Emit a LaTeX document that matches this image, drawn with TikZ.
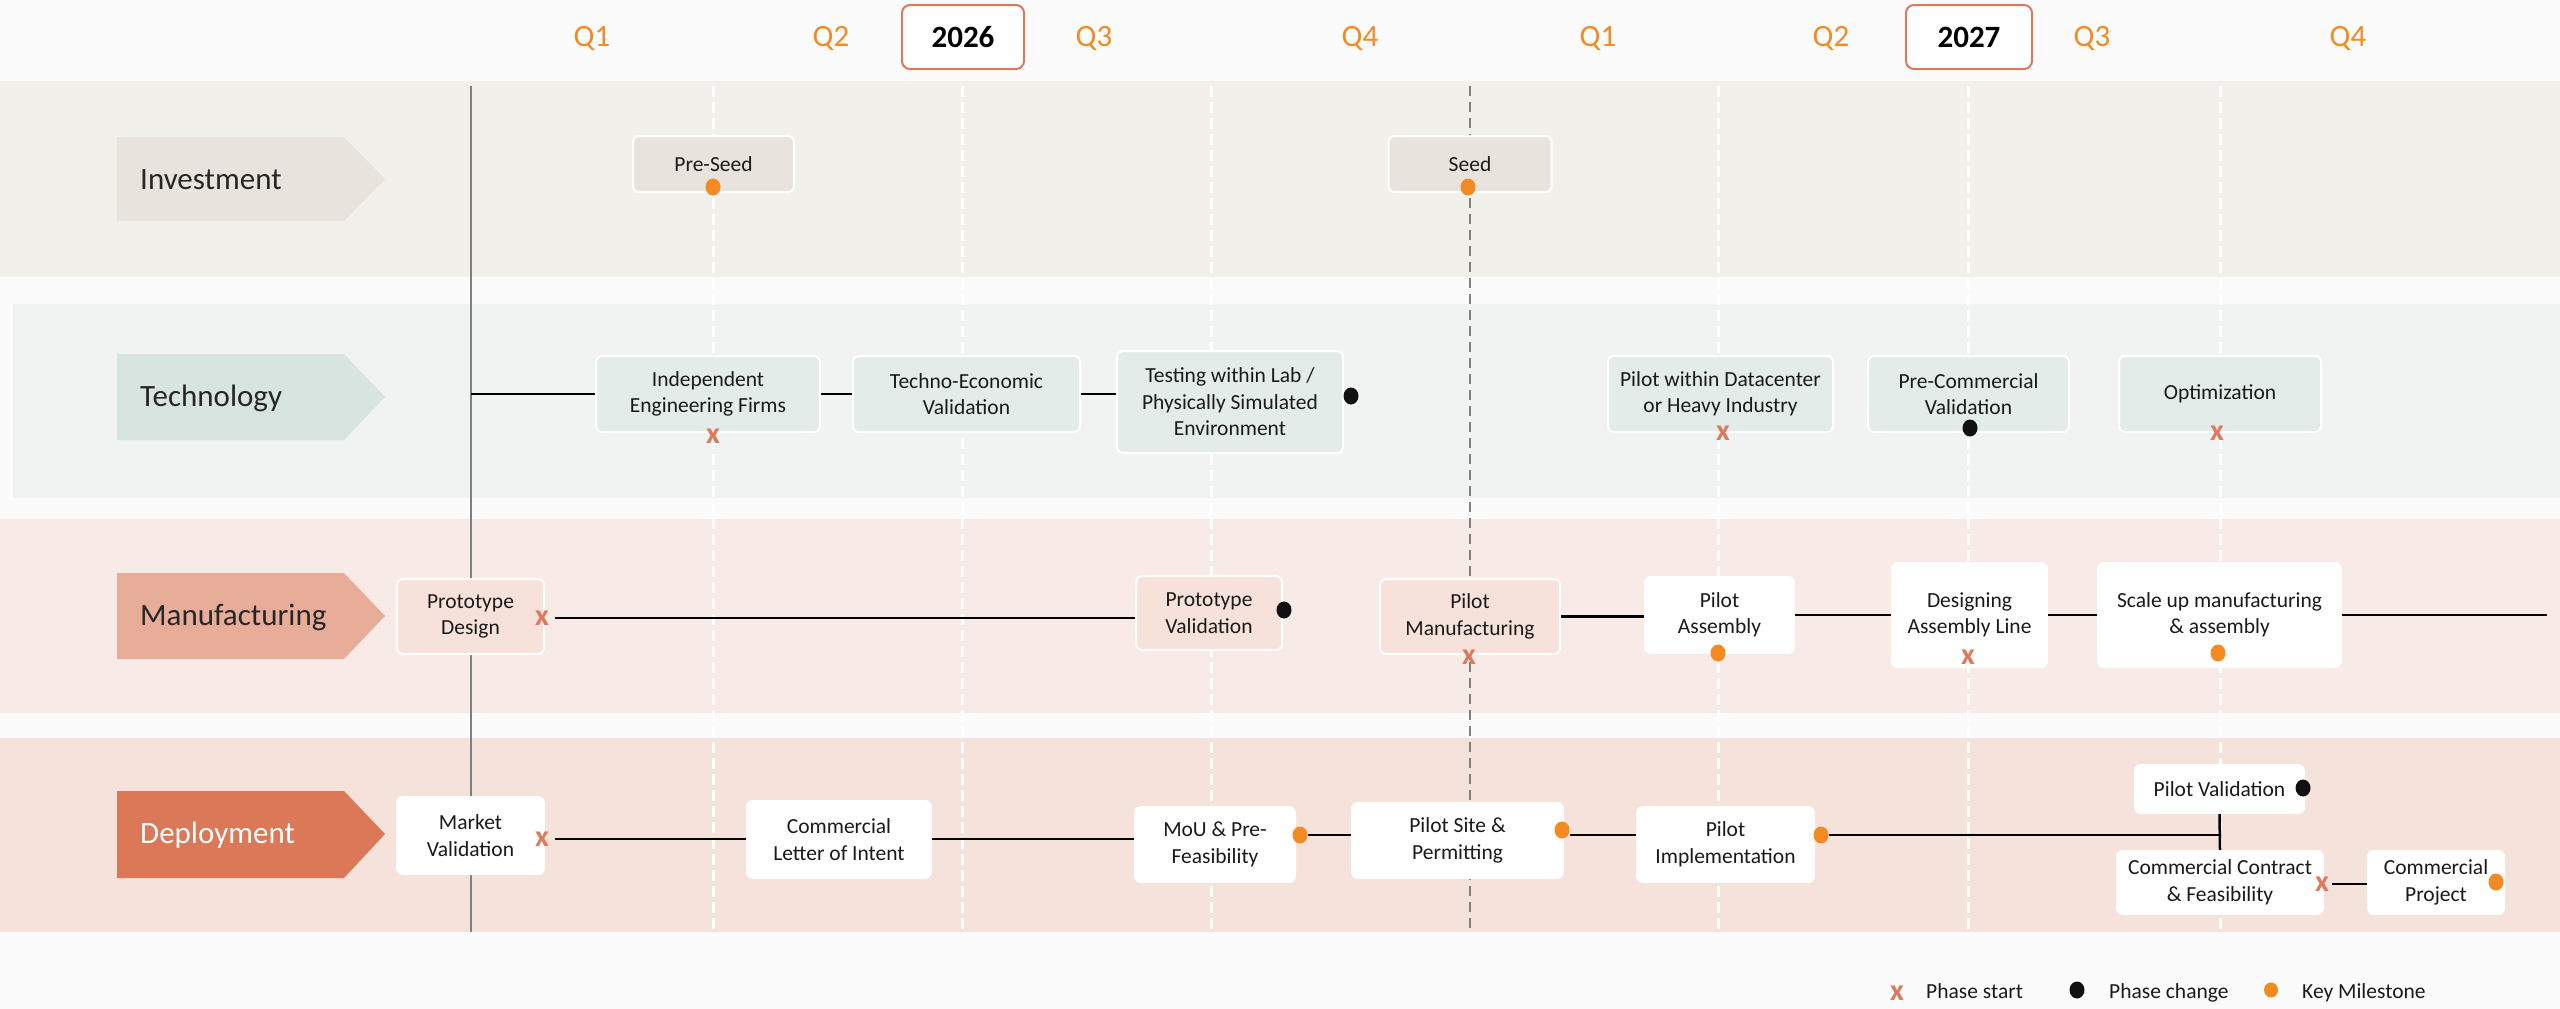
\documentclass[tikz,border=0pt]{standalone}
\usepackage{fontspec}
\setmainfont{Carlito}
\usetikzlibrary{shapes.geometric}
\definecolor{pagebg}{HTML}{FBFBFB}
\definecolor{invband}{HTML}{F2F0EB}
\definecolor{invarrow}{HTML}{E8E4DD}
\definecolor{techband}{HTML}{F0F3F1}
\definecolor{techarrow}{HTML}{D8E4DF}
\definecolor{techbox}{HTML}{E4ECE9}
\definecolor{manband}{HTML}{F8EAE6}
\definecolor{manarrow}{HTML}{E8AD99}
\definecolor{manbox}{HTML}{F7E2DB}
\definecolor{depband}{HTML}{F5E2DB}
\definecolor{deparrow}{HTML}{DB7858}
\definecolor{accent}{HTML}{F38A22}
\definecolor{coral}{HTML}{DC7A5C}
\definecolor{ink}{HTML}{1A1A1A}
\definecolor{darkdot}{HTML}{111111}
\definecolor{spine}{HTML}{808080}

\begin{document}
\begin{tikzpicture}[x=1pt,y=-1pt,
  font=\fontsize{21.5}{26.5}\selectfont,
  box/.style={draw=white, line width=2pt, rounded corners=6pt, align=center,
              inner sep=0pt, text=ink},
  sz/.style 2 args={minimum width=#1pt, minimum height=#2pt},
  invbox/.style={box, fill=invarrow},
  techbox/.style={box, fill=techbox},
  manbox/.style={box, fill=manbox},
  plainbox/.style={box, fill=white},
  yearbox/.style={draw=coral, line width=2pt, fill=white, rounded corners=8pt,
                  inner sep=0pt, font=\fontsize{31}{31}\selectfont\bfseries},
  quarter/.style={text=accent, inner sep=0pt, font=\fontsize{31}{31}\selectfont},
  lanelabel/.style={anchor=west, inner sep=0pt, text=black!85,
                    font=\fontsize{31}{31}\selectfont},
  xmark/.style={text=coral, inner sep=0pt, font=\fontsize{30}{30}\selectfont\bfseries},
  milestone/.style={ellipse, fill=accent, inner sep=0pt, minimum width=15pt, minimum height=17pt},
  phasechange/.style={ellipse, fill=darkdot, inner sep=0pt, minimum width=15pt, minimum height=17pt},
  link/.style={draw=black, line width=2.5pt},
  guide/.style={draw=white, line width=3pt, dash pattern=on 11pt off 5pt},
  legendtext/.style={anchor=base west, inner sep=0pt, text=ink}
]
% canvas
\fill[pagebg] (0,0) rectangle (2560,1009);
\useasboundingbox (0,0) rectangle (2560,1009);

% swim lanes
\fill[invband]  (0,81)   rectangle (2560,277);
\fill[techband] (13,304) rectangle (2560,498);
\fill[manband]  (0,519)  rectangle (2560,713);
\fill[depband]  (0,738)  rectangle (2560,932);

% lane tags
\fill[invarrow]  (117,137) -- (344,137) -- (385,179) -- (344,221) -- (117,221) -- cycle;
\fill[techarrow] (117,354) -- (344,354) -- (385,397) -- (344,440) -- (117,440) -- cycle;
\fill[manarrow]  (117,573) -- (344,573) -- (385,616) -- (344,659) -- (117,659) -- cycle;
\fill[deparrow]  (117,791) -- (344,791) -- (385,834) -- (344,878) -- (117,878) -- cycle;
\node[lanelabel] (lInv)  at (140,180) {Investment};
\node[lanelabel] (lTech) at (140,398) {Technology};
\node[lanelabel] (lMan)  at (140,617) {Manufacturing};
\node[lanelabel, text=white] (lDep) at (140,835) {Deployment};

% quarter guides
\foreach \gx in {713,962,1211,1718,1968,2220}
  \draw[guide] (\gx,86) -- (\gx,932);
\draw[spine, line width=1.5pt, dash pattern=on 10pt off 6pt] (1470,86) -- (1470,932);
\draw[spine, line width=1.5pt] (471,86) -- (471,932);

% header
\node[quarter] (q1a) at (592,38)  {Q1};
\node[quarter] (q2a) at (831,38)  {Q2};
\node[quarter] (q3a) at (1094,38) {Q3};
\node[quarter] (q4a) at (1360,38) {Q4};
\node[quarter] (q1b) at (1598,38) {Q1};
\node[quarter] (q2b) at (1831,38) {Q2};
\node[quarter] (q3b) at (2092,38) {Q3};
\node[quarter] (q4b) at (2348,38) {Q4};
\node[yearbox, sz={122}{64}] (y26) at (963,37)  {2026};
\node[yearbox, sz={126}{64}] (y27) at (1969,37) {2027};

% investment
\node[invbox, sz={161}{56}] (preseed) at (713.5,164) {Pre-Seed};
\node[invbox, sz={163}{56}] (seed)    at (1470,164)  {Seed};

% technology
\node[techbox, sz={224}{76}]  (ief)  at (708,394)    {Independent\\Engineering Firms};
\node[techbox, sz={227}{76}]  (tev)  at (966.5,394)  {Techno-Economic\\Validation};
\node[techbox, sz={226}{102}] (tlab) at (1230,402)   {Testing within Lab /\\Physically Simulated\\Environment};
\node[techbox, sz={225}{76}]  (pdc)  at (1720.5,394) {Pilot within Datacenter\\or Heavy Industry};
\node[techbox, sz={201}{76}]  (pcv)  at (1968.5,394) {Pre-Commercial\\Validation};
\node[techbox, sz={202}{76}]  (opt)  at (2220,394)   {Optimization};

% manufacturing
\node[manbox, sz={147}{75}]    (pd)  at (470.5,616.5) {Prototype\\Design};
\node[manbox, sz={146}{74}]    (pv)  at (1209,613)    {Prototype\\Validation};
\node[manbox, sz={180}{75}]    (pm)  at (1470,616.5)  {Pilot\\Manufacturing};
\node[plainbox, sz={149}{76}]  (pa)  at (1719.5,615)  {Pilot\\Assembly};
\node[plainbox, sz={155}{104}] (dal) at (1969.5,615)  {Designing\\Assembly Line};
\node[plainbox, sz={243}{104}] (su)  at (2219.5,615)  {Scale up manufacturing\\\& assembly};

% deployment
\node[plainbox, sz={147}{77}] (mv)   at (470.5,835.5) {Market\\Validation};
\node[plainbox, sz={184}{77}] (loi)  at (839,839.5)   {Commercial\\Letter of Intent};
\node[plainbox, sz={160}{75}] (mou)  at (1215,844.5)  {MoU \& Pre-\\Feasibility};
\node[plainbox, sz={211}{75}] (ps)   at (1457.5,840.5){Pilot Site \&\\Permitting};
\node[plainbox, sz={177}{75}] (pi)   at (1725.5,844.5){Pilot\\Implementation};
\node[plainbox, sz={169}{48}] (pval) at (2219.5,789)  {Pilot Validation};
\node[plainbox, sz={206}{63}] (ccf)  at (2220,882.5)  {Commercial Contract\\\& Feasibility};
\node[plainbox, sz={136}{63}] (cp)   at (2436,882.5)  {Commercial\\Project};

% markers
\node[milestone] (mPreseed) at (713,187)  {};
\node[milestone] (mSeed)    at (1468,187) {};

\node[xmark] (xIef)  at (713,436)  {x};
\node[phasechange] (cTlab) at (1351,396) {};
\node[xmark] (xPdc)  at (1723,433) {x};
\node[phasechange] (cPcv)  at (1970,428) {};
\node[xmark] (xOpt)  at (2217,433) {x};

\node[xmark] (xPd)  at (542,618)  {x};
\node[phasechange] (cPv) at (1284,610) {};
\node[xmark] (xPm)  at (1469,657) {x};
\node[milestone] (mPa) at (1718,653) {};
\node[xmark] (xDal) at (1968,657) {x};
\node[milestone] (mSu) at (2218,653) {};

\node[xmark] (xMv)   at (542,839)  {x};
\node[milestone] (mMou) at (1300,835) {};
\node[milestone] (mPs)  at (1562,830) {};
\node[milestone] (mPi)  at (1821,835) {};
\node[phasechange] (cPval) at (2303,788) {};
\node[xmark] (xCcf)  at (2322,884) {x};
\node[milestone] (mCp)  at (2496,882) {};

% technology track
\coordinate (techstart) at (471,394);
\draw[link] (techstart) -- (ief.west);
\draw[link] (ief.east) -- (tev.west);
\draw[link] (tev.east) -- (tev.east -| tlab.west);

% manufacturing track
\coordinate (manend) at (2547,615);
\draw[link] ([xshift=6pt]xPd.east) -- (xPd.east -| pv.west);
\draw[link] (pm.east) -- (pm.east -| pa.west);
\draw[link] (pa.east) -- (dal.west);
\draw[link] (dal.east) -- (su.west);
\draw[link] (su.east) -- (manend);

% deployment track
\draw[link] ([xshift=6pt]xMv.east) -- (xMv.east -| loi.west);
\draw[link] (loi.east |- xMv.east) -- (xMv.east -| mou.west);
\draw[link] (mMou.east) -- (mMou.east -| ps.west);
\draw[link] (mPs.east |- mMou.east) -- (mMou.east -| pi.west);
\coordinate (junction) at (pval.south |- mPi.east);
\draw[link] (mPi.east) -- (junction);
\draw[link] (pval.south) -- (ccf.north);
\draw[link] ([xshift=3pt]xCcf.east) -- (xCcf.east -| cp.west);

% legend
\node[xmark] (lgX) at (1897,993) {x};
\node[legendtext] (lgXt) at (1926,998) {Phase start};
\node[phasechange] (lgC) at (2077,990) {};
\node[legendtext] (lgCt) at (2109,998) {Phase change};
\node[milestone, minimum width=14pt, minimum height=15pt] (lgM) at (2271,990) {};
\node[legendtext] (lgMt) at (2302,998) {Key Milestone};
\end{tikzpicture}
\end{document}
